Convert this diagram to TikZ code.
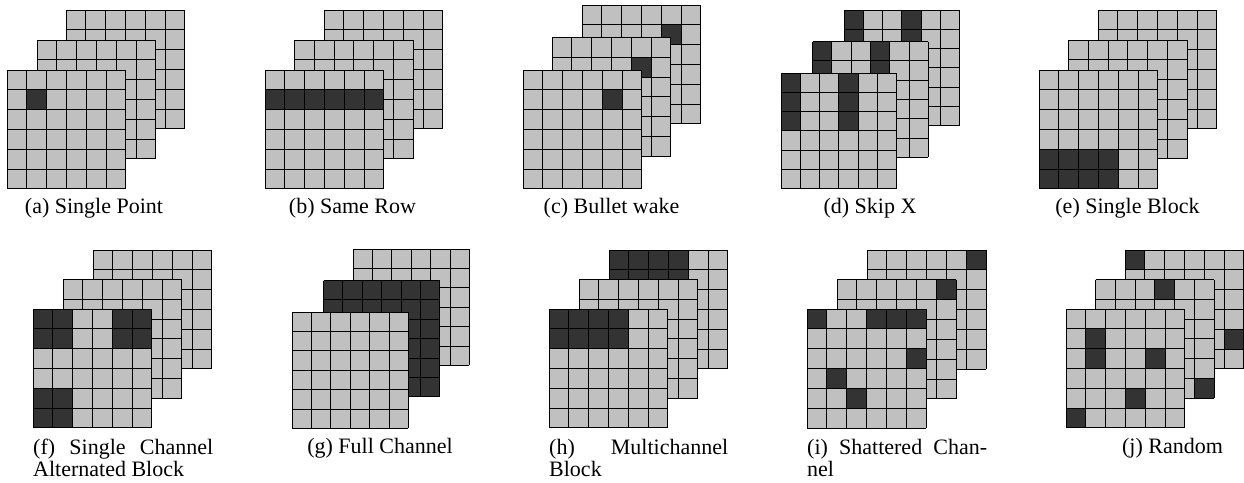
\documentclass[tikz,border=0pt]{standalone}
\usepackage{fontspec}
\setmainfont{Liberation Serif}
\definecolor{lightcell}{HTML}{C0C0C0}
\definecolor{darkcell}{HTML}{333333}
\tikzset{
  gridline/.style={draw=black, line width=1pt},
  captext/.style={font=\fontsize{22}{22}\selectfont, inner sep=0pt, text=black},
}
% #1 x0, #2 y0, #3 cell size, #4 list of dark cells row/col
\newcommand{\drawlayer}[4]{%
  \fill[lightcell] (#1,#2) rectangle ++({6*#3},{6*#3});
  \foreach \rr/\cc in {#4} {
    \fill[darkcell] ({#1+\cc*#3},{#2+\rr*#3}) rectangle ++(#3,#3);
  }
  \foreach \ii in {0,...,6} {
    \draw[gridline] ({#1+\ii*#3},#2) -- ++(0,{6*#3});
    \draw[gridline] (#1,{#2+\ii*#3}) -- ++({6*#3},0);
  }
}
\begin{document}
\begin{tikzpicture}[x=1pt,y=-1pt]
\useasboundingbox[fill=white] (0,0) rectangle (1244,482);

% (a) Single Point
\drawlayer{66}{10}{19.8}{}
\drawlayer{37}{40}{19.8}{}
\drawlayer{7}{70}{19.8}{1/1}
\node[captext, anchor=base] (capa) at (94,213.3) {(a) Single Point};

% (b) Same Row
\drawlayer{324}{10}{19.8}{}
\drawlayer{294.5}{40}{19.8}{}
\drawlayer{265}{70}{19.8}{1/0,1/1,1/2,1/3,1/4,1/5}
\node[captext, anchor=base] (capb) at (352.5,213.3) {(b) Same Row};

% (c) Bullet wake
\drawlayer{582}{5}{19.8}{1/4}
\drawlayer{552}{37.5}{19.8}{1/4}
\drawlayer{523}{70}{19.8}{1/4}
\node[captext, anchor=base] (capc) at (611.5,213.3) {(c) Bullet wake};

% (d) Skip X
\drawlayer{844}{10}{19.3}{0/0,1/0,2/0,0/3,1/3,2/3}
\drawlayer{812.5}{41.5}{19.3}{0/0,1/0,2/0,0/3,1/3,2/3}
\drawlayer{781}{73}{19.3}{0/0,1/0,2/0,0/3,1/3,2/3}
\node[captext, anchor=base] (capd) at (870,213.3) {(d) Skip X};

% (e) Single Block
\drawlayer{1098}{10}{19.8}{}
\drawlayer{1068.5}{40}{19.8}{}
\drawlayer{1039}{70}{19.8}{4/0,4/1,4/2,4/3,5/0,5/1,5/2,5/3}
\node[captext, anchor=base] (cape) at (1127.5,213.3) {(e) Single Block};

% (f) Single Channel Alternated Block
\drawlayer{93}{250}{19.8}{}
\drawlayer{63}{279.5}{19.8}{}
\drawlayer{33}{309}{19.8}{0/0,0/1,1/0,1/1,0/4,0/5,1/4,1/5,4/0,4/1,5/0,5/1}
\node[captext, anchor=base west] (capf) at (33,454) {\makebox[180pt][s]{(f) Single Channel}};
\node[captext, anchor=base west] (capf2) at (33,476) {Alternated Block};

% (g) Full Channel
\drawlayer{353}{249}{19.4}{}
\drawlayer{323.5}{280.5}{19.4}{0/0,0/1,0/2,0/3,0/4,0/5,1/0,1/1,1/2,1/3,1/4,1/5,2/0,2/1,2/2,2/3,2/4,2/5,3/0,3/1,3/2,3/3,3/4,3/5,4/0,4/1,4/2,4/3,4/4,4/5,5/0,5/1,5/2,5/3,5/4,5/5}
\drawlayer{292}{312}{19.4}{}
\node[captext, anchor=base] (capg) at (380,453.5) {(g) Full Channel};

% (h) Multichannel Block
\drawlayer{609}{250}{19.8}{0/0,0/1,0/2,0/3,1/0,1/1,1/2,1/3}
\drawlayer{579}{279.5}{19.8}{}
\drawlayer{549}{309}{19.8}{0/0,0/1,0/2,0/3,1/0,1/1,1/2,1/3}
\node[captext, anchor=base west] (caph) at (549,454) {\makebox[179pt][s]{(h) Multichannel}};
\node[captext, anchor=base west] (caph2) at (549,476) {Block};

% (i) Shattered Channel
\drawlayer{867}{250}{19.9}{0/5}
\drawlayer{837}{279.5}{19.9}{0/5}
\drawlayer{807}{309}{19.9}{0/0,0/3,0/4,0/5,2/5,3/1,4/2}
\node[captext, anchor=base west] (capi) at (807,454) {\makebox[180pt][s]{(i) Shattered Chan-}};
\node[captext, anchor=base west] (capi2) at (807,476) {nel};

% (j) Random
\drawlayer{1125}{250}{19.8}{0/0,4/5}
\drawlayer{1095.5}{279.5}{19.8}{0/3,5/5}
\drawlayer{1066}{309}{19.8}{1/1,2/1,2/4,4/3,5/0}
\node[captext, anchor=base] (capj) at (1172.5,453.5) {(j) Random};
\end{tikzpicture}
\end{document}
